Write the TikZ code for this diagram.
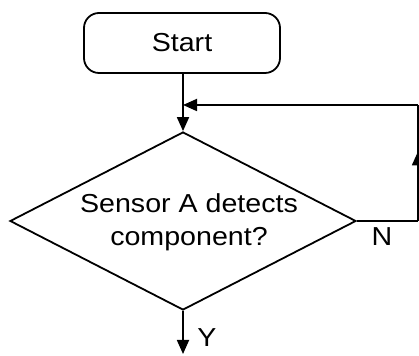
\documentclass[tikz,border=0pt]{standalone}
\usepackage{fontspec}
\setmainfont{Liberation Sans}[FakeStretch=1.1]
\usepackage{tikz}
\usetikzlibrary{arrows.meta,positioning,shapes.geometric,decorations.markings}
\definecolor{ink}{HTML}{000000}
\tikzset{
  >={Triangle[length=14pt,width=12pt]},
  line/.style={line width=1.8pt,draw=ink},
  flow/.style={line,->},
  midflow/.style={line,postaction={decorate},
    decoration={markings,mark=at position 0.6 with {\arrow{>}}}},
  startbox/.style={rounded corners=15pt,line,minimum width=196pt,
    minimum height=60pt,font=\fontsize{26}{33}\selectfont},
  decision/.style={diamond,line,minimum width=346pt,minimum height=178pt,inner sep=0pt},
  txt/.style={font=\fontsize{26}{33}\selectfont,align=center,text=ink}
}
\begin{document}
\begin{tikzpicture}
  \useasboundingbox (0,0) rectangle (419pt,355pt);
  \node[startbox] (start) at (182pt,312pt) {Start};
  \node[decision] (dec) at (183pt,134pt) {};
  \node[txt] (dectext) at (189pt,133pt) {Sensor A detects\\component?};
  \coordinate (back) at (418pt,250pt);
  \coordinate (out) at (183pt,1pt);
  \draw[flow] (dec.north |- start.south) -- (dec.north);
  % no: loop back above the decision
  \draw[line] (dec.east) -- (dec.east -| back);
  \draw[midflow] (dec.east -| back) -- (back);
  \draw[flow] (back) -- (back -| dec.north);
  \node[txt] (no) at (382pt,118pt) {N};
  % yes: leave downwards
  \draw[flow] (dec.south) -- (out);
  \node[txt] (yes) at (207pt,17pt) {Y};
\end{tikzpicture}
\end{document}
